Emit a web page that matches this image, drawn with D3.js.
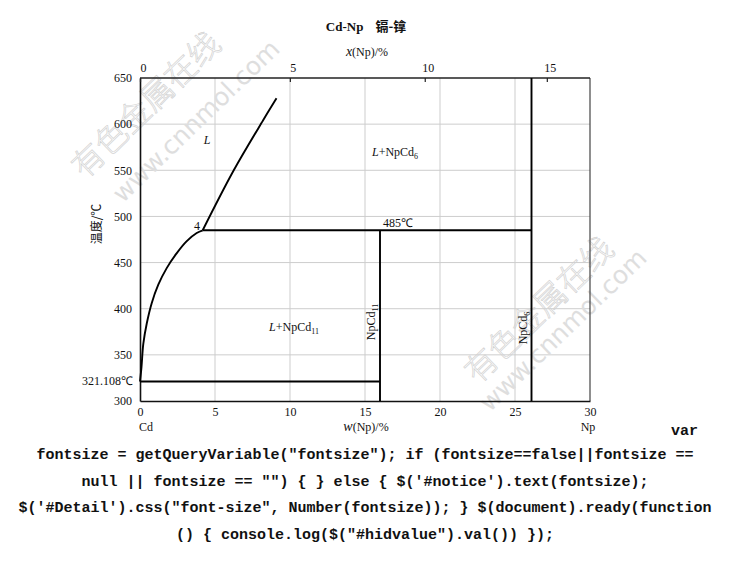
<!DOCTYPE html>
<html><head><meta charset="utf-8">
<script src="https://cdn.jsdelivr.net/npm/d3@7"></script>
<style>
html,body{margin:0;padding:0;background:#fff;}
svg{display:block;}
</style></head>
<body>
<svg id="c" width="730" height="581"></svg>
<script>
// ---- data ----
const wtTicks = [0, 5, 10, 15, 20, 25, 30];
const atTicks = [0, 5, 10, 15];
const tempTicks = [300, 350, 400, 450, 500, 550, 600, 650];
const liquidusLow = [[0, 321.108], [0.1, 337], [0.22, 362], [0.45, 384], [0.78, 406], [1.22, 426], [1.78, 444], [2.44, 460], [3.1, 473], [3.78, 482], [4.18, 485]];
const liquidusHigh = [[4.18, 485], [6.25, 550], [8.2, 604], [9.1, 628]];
const eutecticT = 321.108;
const peritecticT = 485;
const peritecticW = 4.18;
const npcd11W = 16.0;
const npcd6W = 26.1;
const massCd = 112.41, massNp = 237.05;
const jsLines = [
  'fontsize = getQueryVariable("fontsize"); if (fontsize==false||fontsize ==',
  'null || fontsize == "") { } else { $(\'#notice\').text(fontsize);',
  '$(\'#Detail\').css("font-size", Number(fontsize)); } $(document).ready(function',
  '() { console.log($("#hidvalue").val()) });'
];

const svg = d3.select("#c");
const serif = "'Liberation Serif','Times New Roman',serif";
const cjk = "'Noto Sans CJK SC',sans-serif";

const x = d3.scaleLinear().domain([0, 30]).range([140, 590]);
const y = d3.scaleLinear().domain([300, 650]).range([401, 78]);
const atToWt = a => 100 * a * massNp / (a * massNp + (100 - a) * massCd);

// watermarks
function watermark(cx1, cy1, cx2, cy2) {
  svg.append("text").attr("transform", `translate(${cx1},${cy1}) rotate(-44)`)
    .attr("text-anchor", "middle").attr("dominant-baseline", "central")
    .style("font-family", cjk).style("font-size", "32px").style("font-weight", "300")
    .attr("fill", "none").attr("stroke", "#d2d2d2").attr("stroke-width", 0.7)
    .text("有色金属在线");
  svg.append("text").attr("transform", `translate(${cx2},${cy2}) rotate(-44)`)
    .attr("text-anchor", "middle").attr("dominant-baseline", "central")
    .style("font-family", "'DejaVu Sans',sans-serif").style("font-size", "25px")
    .attr("fill", "#dedede")
    .text("www.cnnmol.com");
}

// grid
const g = svg.append("g");
g.selectAll(".vg").data(wtTicks.filter(d => d > 0 && d < 30)).join("line")
  .attr("x1", d => x(d)).attr("x2", d => x(d)).attr("y1", y(300)).attr("y2", y(650))
  .attr("stroke", "#cdcdcd").attr("stroke-width", 1);
g.selectAll(".hg").data(tempTicks.filter(d => d > 300 && d < 650)).join("line")
  .attr("x1", x(0)).attr("x2", x(30)).attr("y1", d => y(d)).attr("y2", d => y(d))
  .attr("stroke", "#cdcdcd").attr("stroke-width", 1);

watermark(144, 103, 196, 121);
watermark(537, 308, 563, 330);

// frame
svg.append("line").attr("x1", x(30)).attr("x2", x(30)).attr("y1", y(300)).attr("y2", y(650)).attr("stroke", "#444").attr("stroke-width", 1.2);
svg.append("line").attr("x1", x(0)).attr("x2", x(30)).attr("y1", y(650)).attr("y2", y(650)).attr("stroke", "#222").attr("stroke-width", 1.5);

// axes
const axBottom = d3.axisBottom(x).tickValues(wtTicks).tickSize(0).tickPadding(6).tickFormat(d3.format("d"));
const axLeft = d3.axisLeft(y).tickValues(tempTicks).tickSize(0).tickPadding(8).tickFormat(d3.format("d"));
const axTop = d3.axisTop(x).tickValues(atTicks.map(atToWt)).tickSizeInner(-4).tickSizeOuter(0).tickPadding(6)
  .tickFormat((d, i) => atTicks[i]);

const gb = svg.append("g").attr("transform", `translate(0,${y(300)})`).call(axBottom);
const gl = svg.append("g").attr("transform", `translate(${x(0)},0)`).call(axLeft);
const gt = svg.append("g").attr("transform", `translate(0,${y(650)})`).call(axTop);
[gb, gl, gt].forEach(a => {
  a.selectAll("text").style("font-family", serif).style("font-size", "12px").attr("fill", "#111");
});
gb.select(".domain").attr("stroke", "#111").attr("stroke-width", 1.6);
gl.select(".domain").attr("stroke", "#111").attr("stroke-width", 1.6);
gt.select(".domain").remove();
gt.selectAll(".tick line").attr("stroke", "#222").attr("stroke-width", 1.2);
gt.selectAll(".tick text").attr("dx", 3);

// phase lines
const line = d3.line().x(d => x(d[0])).y(d => y(d[1])).curve(d3.curveCatmullRom.alpha(0.5));
const P = svg.append("g").attr("fill", "none").attr("stroke", "#000").attr("stroke-width", 1.9);
P.append("path").attr("d", line(liquidusLow));
P.append("path").attr("d", line(liquidusHigh));
P.append("line").attr("x1", x(peritecticW)).attr("x2", x(npcd6W)).attr("y1", y(peritecticT)).attr("y2", y(peritecticT));
P.append("line").attr("x1", x(0)).attr("x2", x(npcd11W)).attr("y1", y(eutecticT)).attr("y2", y(eutecticT));
P.append("line").attr("x1", x(npcd11W)).attr("x2", x(npcd11W)).attr("y1", y(300)).attr("y2", y(peritecticT));
P.append("line").attr("x1", x(npcd6W)).attr("x2", x(npcd6W)).attr("y1", y(300)).attr("y2", y(650));

// labels
function txt(xx, yy, size, anchor) {
  return svg.append("text").attr("x", xx).attr("y", yy).attr("text-anchor", anchor || "start")
    .style("font-family", serif).style("font-size", size + "px").attr("fill", "#111");
}
// title
const t = txt(366, 31, 13, "middle").style("font-weight", "bold");
t.append("tspan").text("Cd-Np");
t.append("tspan").attr("dx", 12).style("font-family", cjk).text("镉-镎");
// top axis title
const tx = txt(367, 56, 12, "middle");
tx.append("tspan").style("font-style", "italic").style("font-size", "14px").text("x");
tx.append("tspan").text("(Np)/%");
// bottom axis title
const bx = txt(366, 431, 12, "middle");
bx.append("tspan").style("font-style", "italic").style("font-size", "14px").text("w");
bx.append("tspan").text("(Np)/%");
txt(146, 431, 12, "middle").text("Cd");
txt(588, 431, 12, "middle").text("Np");
// y title
svg.append("text").attr("transform", "translate(101,224) rotate(-90)").attr("text-anchor", "middle")
  .style("font-family", cjk).style("font-size", "12px").attr("fill", "#111").text("温度/℃");
txt(133, 385, 12, "end").text("321.108℃");
txt(197, 230, 12, "middle").text("4");
txt(383, 227, 12, "start").text("485℃");
txt(207, 144, 12, "middle").style("font-style", "italic").text("L");
const l6 = txt(395, 156, 12, "middle");
l6.append("tspan").style("font-style", "italic").text("L");
l6.append("tspan").text("+NpCd");
l6.append("tspan").attr("dy", 3).style("font-size", "8px").text("6");
const l11 = txt(294, 331, 12, "middle");
l11.append("tspan").style("font-style", "italic").text("L");
l11.append("tspan").text("+NpCd");
l11.append("tspan").attr("dy", 3).style("font-size", "8px").text("11");
function vlabel(xx, yy, sub) {
  const v = svg.append("text").attr("transform", `translate(${xx},${yy}) rotate(-90)`).attr("text-anchor", "middle")
    .style("font-family", serif).style("font-size", "12px").attr("fill", "#111");
  v.append("tspan").text("NpCd");
  v.append("tspan").attr("dy", 3).style("font-size", "8px").text(sub);
}
vlabel(375, 322, "11");
vlabel(527, 328, "6");

// page script text
const mono = "'Liberation Mono','DejaVu Sans Mono',monospace";
svg.append("text").attr("x", 698).attr("y", 435).attr("text-anchor", "end")
  .style("font-family", mono).style("font-weight", "bold").style("font-size", "15px").attr("fill", "#111").text("var");
svg.selectAll(".js").data(jsLines).join("text")
  .attr("x", 365).attr("y", (d, i) => 459 + i * 26.7).attr("text-anchor", "middle")
  .style("font-family", mono).style("font-weight", "bold").style("font-size", "15px").attr("fill", "#111")
  .text(d => d);
</script>
</body></html>
